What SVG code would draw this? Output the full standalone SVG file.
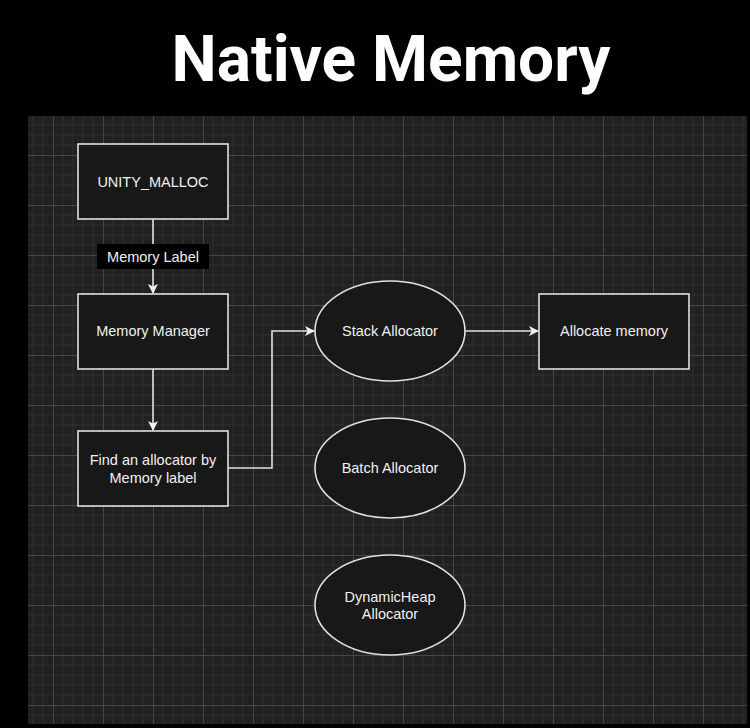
<svg xmlns="http://www.w3.org/2000/svg" width="750" height="728" viewBox="0 0 750 728">
<style>
.node{fill:#181818;stroke:#e0e0e0;stroke-width:1.6}
.lbl{font-family:"Liberation Sans",Arial,sans-serif;font-size:14.5px;fill:#f0f0f0;text-anchor:middle;dominant-baseline:central}
.edge{fill:none;stroke:#e0e0e0;stroke-width:1.6}
</style>
<defs>
<pattern id="grid" x="3" y="5" width="50" height="50" patternUnits="userSpaceOnUse">
<rect width="50" height="50" fill="#212121"/>
<path d="M10 0V50M20 0V50M30 0V50M40 0V50M0 10H50M0 20H50M0 30H50M0 40H50" stroke="#2f2f2f" stroke-width="1"/>
<path d="M0.5 0V50M0 0.5H50" stroke="#464646" stroke-width="1"/>
</pattern>
<marker id="arr" viewBox="0 0 10 10" refX="9" refY="5" markerWidth="10" markerHeight="10" markerUnits="userSpaceOnUse" orient="auto">
<path d="M0 0L10 5L0 10L2.5 5Z" fill="#f0f0f0"/>
</marker>
</defs>
<rect width="750" height="728" fill="#000"/>
<rect x="28" y="116" width="719" height="608" fill="url(#grid)"/>
<text x="391" y="81" font-family="Roboto,'Liberation Sans',sans-serif" font-weight="700" font-size="64" fill="#fff" text-anchor="middle">Native Memory</text>
<g id="connectors">
<path class="edge" d="M153 219V293" marker-end="url(#arr)"/>
<path class="edge" d="M153 369V430" marker-end="url(#arr)"/>
<path class="edge" d="M228 468H272V331H314" marker-end="url(#arr)"/>
<path class="edge" d="M465 331H538" marker-end="url(#arr)"/>
<g id="edge-label">
<rect x="97" y="244" width="112" height="25" fill="#000"/>
<text class="lbl" x="153" y="256.5">Memory Label</text>
</g>
</g>
<g id="unity-malloc">
<rect class="node" x="78" y="144" width="150" height="75"/>
<text class="lbl" x="153" y="182">UNITY_MALLOC</text>
</g>
<g id="memory-manager">
<rect class="node" x="78" y="294" width="150" height="75"/>
<text class="lbl" x="153" y="331">Memory Manager</text>
</g>
<g id="find-allocator">
<rect class="node" x="78" y="431" width="150" height="75"/>
<text class="lbl" x="153" y="460">Find an allocator by</text>
<text class="lbl" x="153" y="478">Memory label</text>
</g>
<g id="stack-allocator">
<ellipse class="node" cx="390" cy="331" rx="75" ry="50"/>
<text class="lbl" x="390" y="331">Stack Allocator</text>
</g>
<g id="batch-allocator">
<ellipse class="node" cx="390" cy="468" rx="75" ry="50"/>
<text class="lbl" x="390" y="468">Batch Allocator</text>
</g>
<g id="dynamicheap-allocator">
<ellipse class="node" cx="390" cy="605" rx="75" ry="50"/>
<text class="lbl" x="390" y="597">DynamicHeap</text>
<text class="lbl" x="390" y="614">Allocator</text>
</g>
<g id="allocate-memory">
<rect class="node" x="539" y="294" width="150" height="75"/>
<text class="lbl" x="614" y="331">Allocate memory</text>
</g>
</svg>
